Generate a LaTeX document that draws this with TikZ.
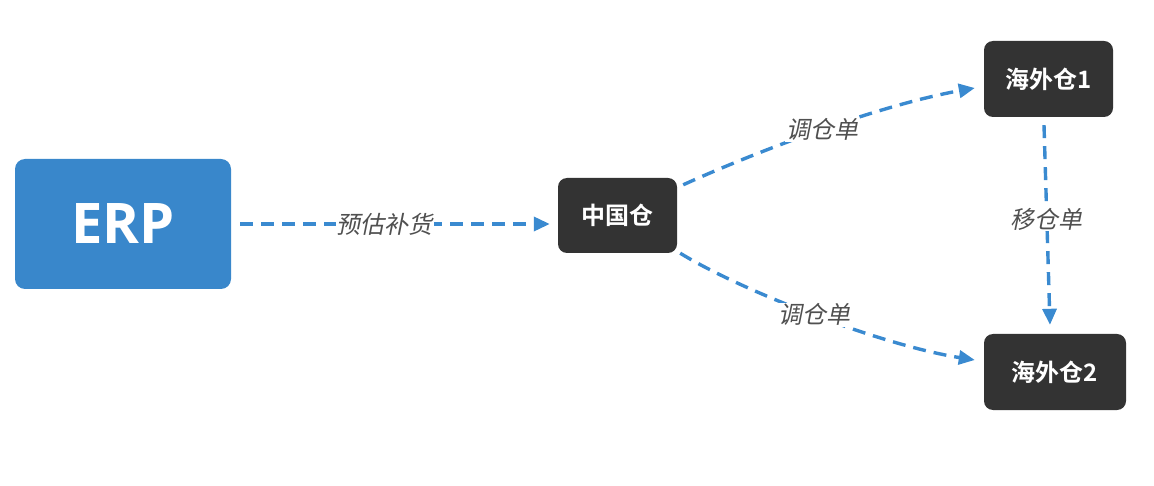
\documentclass[tikz,border=0pt]{standalone}
\usepackage{fontspec}
\newfontfamily\cjkbold{Noto Sans CJK SC Bold}
\newfontfamily\cjkslant[FakeSlant=0.2]{Noto Sans CJK SC}
\newfontfamily\erpfont{Open Sans}
\usetikzlibrary{arrows.meta}
\definecolor{erpblue}{HTML}{3987CB}
\definecolor{boxdark}{HTML}{333333}
\definecolor{linkblue}{HTML}{3A8AD0}
\definecolor{labelgray}{HTML}{505050}
\tikzset{
  darkbox/.style={fill=boxdark, rounded corners=9pt, text=white, inner sep=0pt,
    font=\cjkbold\fontsize{24}{28}\selectfont},
  flow/.style={draw=linkblue, line width=3.4pt, dash pattern=on 13pt off 8pt,
    -{Triangle[length=16pt,width=14pt]}},
  flowlabel/.style={fill=white, inner sep=1pt, text=labelgray,
    font=\cjkslant\fontsize{24}{28}\selectfont}
}
\begin{document}
\begin{tikzpicture}[x=1pt,y=-1pt]
\useasboundingbox (0,0) rectangle (1154,486);
\node[fill=erpblue, rounded corners=10pt, minimum width=216pt, minimum height=130pt,
  text=white, font=\erpfont\bfseries\fontsize{56}{62}\selectfont] (erp) at (123,224) {ERP};
\node[darkbox, minimum width=119pt, minimum height=75pt] (zg) at (617.5,215.5) {中国仓};
\node[darkbox, minimum width=129pt, minimum height=76pt] (h1) at (1048.5,79) {海外仓1};
\node[darkbox, minimum width=142pt, minimum height=76pt] (h2) at (1055,372) {海外仓2};

\draw[flow, shorten <=9pt, shorten >=8pt] (erp.east) -- (zg.west |- erp.east)
  node[flowlabel, pos=0.47] {预估补货};
\draw[flow] ([shift={(6,7)}]zg.north east) .. controls (760,150) and (880,105) .. ([shift={(-9,9)}]h1.west)
  node[flowlabel, pos=0.5] {调仓单};
\draw[flow] ([shift={(3,0)}]zg.south east) .. controls (740,290) and (880,345) .. ([shift={(-9,-12)}]h2.west)
  node[flowlabel, pos=0.5] {调仓单};
\draw[flow] ([shift={(-4.5,8)}]h1.south) -- ([shift={(-5,-9)}]h2.north)
  node[flowlabel, pos=0.47] {移仓单};
\end{tikzpicture}
\end{document}
